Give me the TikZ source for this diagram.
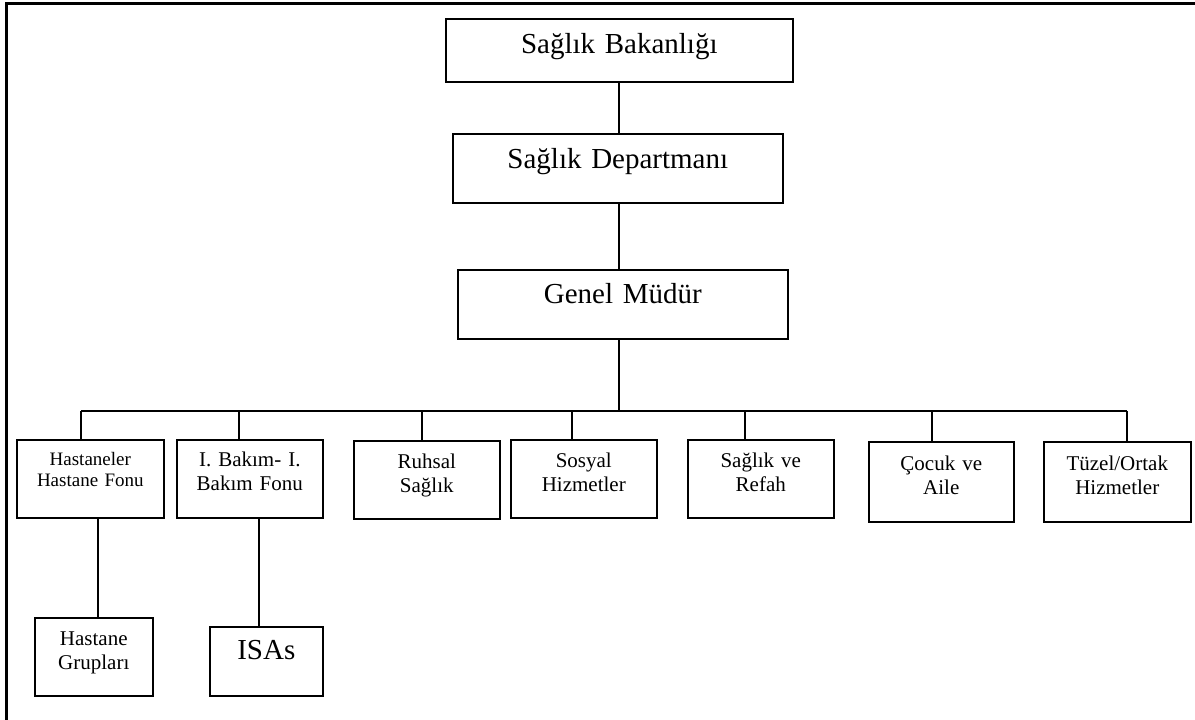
\documentclass[tikz,border=0pt]{standalone}
\usepackage{fontspec}
\setmainfont{Liberation Serif}
\usetikzlibrary{calc}
\newcommand{\stub}[2]{\draw[link] (#1) -- (#1 |- #2.north)}
\newcommand{\drop}[3]{\draw[link] let \p1 = (#1.south) in (#3, \y1) -- (#3, \y1 |- #2.north)}

\begin{document}
\begin{tikzpicture}[x=1pt, y=-1pt,
    unit/.style={draw, line width=1.6pt, inner sep=0pt, anchor=north west, align=center},
    big/.style={unit, font=\fontsize{29}{33}\selectfont},
    small/.style={unit, text height=28pt, text depth=50pt, font=\fontsize{21}{23.5}\selectfont},
    link/.style={line width=1.6pt}]
                    \useasboundingbox (0,0) rectangle (1195,720);
                    \draw[line width=2.2pt] (6.5,720) -- (6.5,3.5) -- (1195,3.5);

                    \node[big, text width=347pt, text height=35pt, text depth=28pt] (bak) at (445,18) {Sağlık Bakanlığı};
                    \node[big, text width=330pt, text height=35pt, text depth=34pt] (dep) at (452,133) {Sağlık Departmanı};
                    \node[big, text width=330pt, text height=34pt, text depth=35pt] (gm) at (457,269) {Genel Müdür};

                    \node[small, text width=147pt, text height=26pt, text depth=52pt, font=\fontsize{19}{21}\selectfont] (has) at (16,439) {Hastaneler\\Hastane Fonu};
                    \node[small, text width=146pt, text height=27pt, text depth=51pt] (ibk) at (176,439) {I. Bakım- I.\\Bakım Fonu};
                    \node[small, text width=146pt] (ruh) at (353,440) {Ruhsal\\Sağlık};
                    \node[small, text width=146pt] (sos) at (510,439) {Sosyal\\Hizmetler};
                    \node[small, text width=146pt] (ref) at (687,439) {Sağlık ve\\Refah};
                    \node[small, text width=145pt, text height=29pt, text depth=51pt] (coc) at (868,441) {Çocuk ve\\Aile};
                    \node[small, text width=147pt, text height=29pt, text depth=51pt] (tuz) at (1043,441) {Tüzel/Ortak\\Hizmetler};

                    \node[small, text width=118pt] (grp) at (34,617) {Hastane\\Grupları};
                    \node[big, text width=113pt, text height=33pt, text depth=36pt] (isa) at (209,626) {ISAs};

                    % top chain
                    \drop{bak}{dep}{619};
                    \drop{dep}{gm}{619};
                    \coordinate (mid) at (619,411);
                    \drop{gm}{mid}{619};
                    \draw[link] (81,411) -- (1127,411);

                    \coordinate (b1) at (81,411);
                    \coordinate (b2) at (239,411);
                    \coordinate (b3) at (422,411);
                    \coordinate (b4) at (572,411);
                    \coordinate (b5) at (745,411);
                    \coordinate (b6) at (932,411);
                    \coordinate (b7) at (1127,411);
                    \stub{b1}{has};
                    \stub{b2}{ibk};
                    \stub{b3}{ruh};
                    \stub{b4}{sos};
                    \stub{b5}{ref};
                    \stub{b6}{coc};
                    \stub{b7}{tuz};

                    \drop{has}{grp}{98};
                    \drop{ibk}{isa}{259};
                \end{tikzpicture}
\end{document}
